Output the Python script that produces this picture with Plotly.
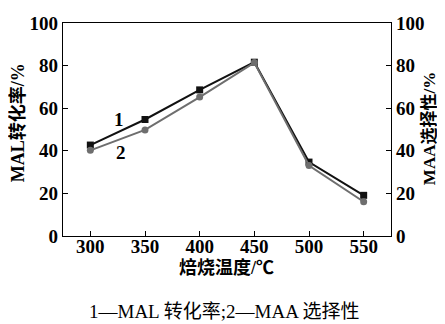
import plotly.graph_objects as go

temps = [300, 350, 400, 450, 500, 550]
mal_conversion = [42.7, 54.7, 68.6, 81.6, 34.7, 19.1]
maa_selectivity = [40.2, 49.8, 65.2, 81.4, 33.1, 16.1]
y_ticks = [0, 20, 40, 60, 80, 100]
x_ticks = [300, 350, 400, 450, 500, 550]

FONT = "Liberation Serif, Noto Sans CJK SC, serif"

fig = go.Figure()
fig.add_trace(go.Scatter(
    x=temps, y=maa_selectivity, mode="lines+markers", yaxis="y2",
    line=dict(color="#6e6e6e", width=2),
    marker=dict(symbol="circle", size=7, color="#6e6e6e"),
    showlegend=False))
fig.add_trace(go.Scatter(
    x=temps, y=mal_conversion, mode="lines+markers",
    line=dict(color="#111111", width=2),
    marker=dict(symbol="square", size=7, color="#111111"),
    showlegend=False))

tickfont = dict(family=FONT, size=19, color="black", weight="bold")
axis_common = dict(showline=True, linecolor="black", linewidth=1.3,
                   ticks="inside", ticklen=5, tickwidth=1.3, tickcolor="black",
                   showgrid=False, zeroline=False, tickfont=tickfont, automargin=False)

# page body has an 8px default margin; figure is sized so it fits the window
fig.update_layout(
    width=437, height=316,
    margin=dict(l=55, r=54, t=15, b=88),
    paper_bgcolor="white", plot_bgcolor="white",
    font=dict(family=FONT, color="black"),
    xaxis=dict(range=[275, 575], tickvals=x_ticks, mirror=True,
               ticklabelstandoff=-7, **axis_common),
    yaxis=dict(range=[0, 100], tickvals=y_ticks, **axis_common),
    yaxis2=dict(range=[0, 100], tickvals=y_ticks, overlaying="y", side="right", **axis_common),
)

# axis titles as annotations for precise placement
fig.add_annotation(xref="paper", yref="paper", x=0.497, y=-0.146, xanchor="center", yanchor="middle",
                   text="焙烧温度/℃", showarrow=False,
                   font=dict(family=FONT, size=18, color="black", weight="bold"))
fig.add_annotation(xref="paper", yref="paper", x=-0.140, y=0.530, xanchor="center", yanchor="middle",
                   text="MAL转化率/%", textangle=-90, showarrow=False,
                   font=dict(family=FONT, size=18, color="black", weight="bold"))
fig.add_annotation(xref="paper", yref="paper", x=1.118, y=0.505, xanchor="center", yanchor="middle",
                   text="MAA选择性/%", textangle=-90, showarrow=False,
                   font=dict(family=FONT, size=17, color="black", weight="bold"))

fig.add_annotation(x=326, y=54.5, text="1", showarrow=False,
                   font=dict(family=FONT, size=19, color="black", weight="bold"))
fig.add_annotation(x=328, y=39, text="2", showarrow=False,
                   font=dict(family=FONT, size=19, color="black", weight="bold"))
fig.add_annotation(xref="paper", yref="paper", x=0.491, y=-0.355, xanchor="center", yanchor="middle",
                   text="1—MAL 转化率;2—MAA 选择性", showarrow=False,
                   font=dict(family=FONT, size=19, color="black"))

fig.write_html("out.html")
